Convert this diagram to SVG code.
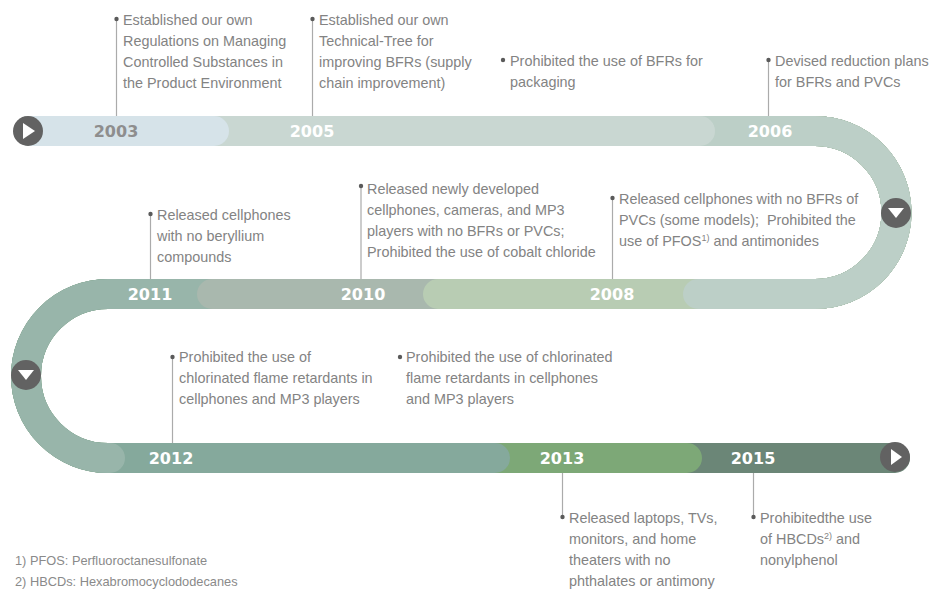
<svg xmlns="http://www.w3.org/2000/svg" width="933" height="589" viewBox="0 0 933 589">
<style>
.band{fill:none;stroke-width:30;stroke-linecap:round}
.yr{font-family:"DejaVu Sans",sans-serif;font-weight:bold;font-size:16px;fill:#ffffff;text-anchor:middle}
.t{font-family:"Liberation Sans",Arial,sans-serif;font-size:14.4px;fill:#838383}
.sup{font-size:9px}
.fn{font-family:"Liberation Sans",Arial,sans-serif;font-size:12.8px;fill:#8a8a8a}
.ld{stroke:#ababab;stroke-width:1.2;fill:none}
.dot{fill:#5a5a5a}
.btn{fill:#626262}
.tri{fill:#ffffff}
</style>
<rect width="933" height="589" fill="#ffffff"/>
<g id="connectors">
  <path class="band" stroke="#6b8677" d="M30 131 H815 A81.5 81.5 0 0 1 815 294 H108 A82 82 0 0 0 108 458 H895"/>
  <path class="band" stroke="#7da877" d="M30 131 H815 A81.5 81.5 0 0 1 815 294 H108 A82 82 0 0 0 108 458 H687"/>
  <path class="band" stroke="#85a99c" d="M30 131 H815 A81.5 81.5 0 0 1 815 294 H108 A82 82 0 0 0 108 458 H495"/>
  <path class="band" stroke="#98b5aa" d="M30 131 H815 A81.5 81.5 0 0 1 815 294 H108 A82 82 0 0 0 108 458 H110"/>
  <path class="band" stroke="#a9b8ae" d="M30 131 H815 A81.5 81.5 0 0 1 815 294 H212"/>
  <path class="band" stroke="#b8ccb3" d="M30 131 H815 A81.5 81.5 0 0 1 815 294 H438"/>
  <path class="band" stroke="#bccfc7" d="M30 131 H815 A81.5 81.5 0 0 1 815 294 H698"/>
  <path class="band" stroke="#c9d7d2" d="M30 131 H700"/>
  <path class="band" stroke="#d6e3e9" d="M30 131 H214"/>
  <path class="ld" d="M116.5 19 V116 M312.5 19 V116 M768.5 60 V116 M150.5 214 V279 M361 186 V279 M612.5 198 V279 M172.5 357 V443 M562.5 473 V517 M753.5 473 V517"/>
</g>
<g id="start"><circle class="btn" cx="28" cy="131" r="15"/><polygon class="tri" points="23,123 23,139 35,131"/></g>
<g id="turn-right"><circle class="btn" cx="896" cy="213" r="15"/><polygon class="tri" points="888,208 904,208 896,218"/></g>
<g id="turn-left"><circle class="btn" cx="26" cy="375" r="15"/><polygon class="tri" points="18,370 34,370 26,380"/></g>
<g id="end"><circle class="btn" cx="895" cy="457" r="15"/><polygon class="tri" points="891,449 891,465 902,457"/></g>

<g id="y2003">
  <text class="yr" x="116" y="137" style="fill:#8e8e8e">2003</text>
  <circle class="dot" cx="116.5" cy="19" r="2.2"/>
  <text class="t" x="123" y="25">Established our own</text>
  <text class="t" x="123" y="46">Regulations on Managing</text>
  <text class="t" x="123" y="67">Controlled Substances in</text>
  <text class="t" x="123" y="88">the Product Environment</text>
</g>
<g id="y2005">
  <text class="yr" x="312" y="137">2005</text>
  <circle class="dot" cx="312.5" cy="19" r="2.2"/>
  <text class="t" x="319" y="25">Established our own</text>
  <text class="t" x="319" y="46">Technical-Tree for</text>
  <text class="t" x="319" y="67">improving BFRs (supply</text>
  <text class="t" x="319" y="88">chain improvement)</text>
</g>
<g id="packaging">
  <circle class="dot" cx="503" cy="60" r="2.2"/>
  <text class="t" x="510" y="66">Prohibited the use of BFRs for</text>
  <text class="t" x="510" y="87">packaging</text>
</g>
<g id="y2006">
  <text class="yr" x="770" y="137">2006</text>
  <circle class="dot" cx="768.5" cy="60" r="2.2"/>
  <text class="t" x="775" y="66">Devised reduction plans</text>
  <text class="t" x="775" y="87">for BFRs and PVCs</text>
</g>
<g id="y2011">
  <text class="yr" x="150" y="300">2011</text>
  <circle class="dot" cx="150.5" cy="214" r="2.2"/>
  <text class="t" x="157" y="220">Released cellphones</text>
  <text class="t" x="157" y="241">with no beryllium</text>
  <text class="t" x="157" y="262">compounds</text>
</g>
<g id="y2010">
  <text class="yr" x="363" y="300">2010</text>
  <circle class="dot" cx="361" cy="186" r="2.2"/>
  <text class="t" x="367" y="194">Released newly developed</text>
  <text class="t" x="367" y="215">cellphones, cameras, and MP3</text>
  <text class="t" x="367" y="236">players with no BFRs or PVCs;</text>
  <text class="t" x="367" y="257">Prohibited the use of cobalt chloride</text>
</g>
<g id="y2008">
  <text class="yr" x="612" y="300">2008</text>
  <circle class="dot" cx="612.5" cy="198" r="2.2"/>
  <text class="t" x="619" y="204">Released cellphones with no BFRs of</text>
  <text class="t" x="619" y="225" xml:space="preserve">PVCs (some models);  Prohibited the</text>
  <text class="t" x="619" y="246">use of PFOS<tspan class="sup" dy="-5">1)</tspan><tspan dy="5"> and antimonides</tspan></text>
</g>
<g id="y2012">
  <text class="yr" x="171" y="464">2012</text>
  <circle class="dot" cx="172.5" cy="357" r="2.2"/>
  <text class="t" x="179" y="362">Prohibited the use of</text>
  <text class="t" x="179" y="383">chlorinated flame retardants in</text>
  <text class="t" x="179" y="404">cellphones and MP3 players</text>
</g>
<g id="chlorinated">
  <circle class="dot" cx="400" cy="357" r="2.2"/>
  <text class="t" x="406" y="362">Prohibited the use of chlorinated</text>
  <text class="t" x="406" y="383">flame retardants in cellphones</text>
  <text class="t" x="406" y="404">and MP3 players</text>
</g>
<g id="y2013">
  <text class="yr" x="562" y="464">2013</text>
  <circle class="dot" cx="562.5" cy="517" r="2.2"/>
  <text class="t" x="569" y="523">Released laptops, TVs,</text>
  <text class="t" x="569" y="544">monitors, and home</text>
  <text class="t" x="569" y="565">theaters with no</text>
  <text class="t" x="569" y="586">phthalates or antimony</text>
</g>
<g id="y2015">
  <text class="yr" x="753" y="464">2015</text>
  <circle class="dot" cx="753.5" cy="517" r="2.2"/>
  <text class="t" x="760" y="523">Prohibitedthe use</text>
  <text class="t" x="760" y="544">of HBCDs<tspan class="sup" dy="-5">2)</tspan><tspan dy="5"> and</tspan></text>
  <text class="t" x="760" y="565">nonylphenol</text>
</g>
<g id="footnotes">
  <text class="fn" x="15" y="565">1) PFOS: Perfluoroctanesulfonate</text>
  <text class="fn" x="15" y="586">2) HBCDs: Hexabromocyclododecanes</text>
</g>
</svg>
